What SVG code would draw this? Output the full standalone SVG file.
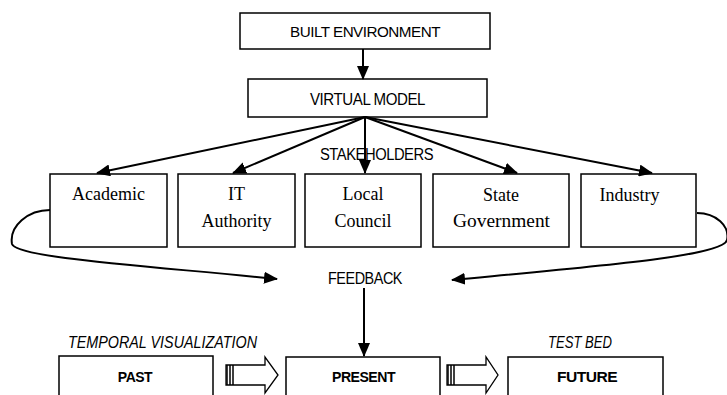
<svg xmlns="http://www.w3.org/2000/svg" width="727" height="395" viewBox="0 0 727 395">
<style>
.box{fill:#fff;stroke:#000;stroke-width:1.5}
.ln{fill:none;stroke:#000;stroke-width:2}
.sans{font-family:"Liberation Sans",Arial,sans-serif;font-size:15px;fill:#000;letter-spacing:-0.5px}
.big{font-size:17px}
.mid{font-size:16px}
.bold{font-size:14px;font-weight:bold;text-anchor:middle}
.ital{font-family:"Liberation Sans",Arial,sans-serif;font-size:16px;font-style:italic;fill:#000}
.serif{font-family:"Liberation Serif","Times New Roman",serif;font-size:18px;fill:#000;text-anchor:middle}
.hol{fill:#fff;stroke:#000;stroke-width:1.3}
</style>
<defs>
<marker id="ah" markerWidth="14" markerHeight="12" refX="13" refY="6" orient="auto" markerUnits="userSpaceOnUse">
<path d="M0,0 L14,6 L0,12 Z" fill="#000"/>
</marker>
</defs>
<g id="built-environment">
<rect class="box" x="240" y="13" width="250" height="36"/>
<text class="sans" x="290" y="37" textLength="150" lengthAdjust="spacingAndGlyphs">BUILT ENVIRONMENT</text>
</g>
<g id="virtual-model">
<rect class="box" x="248" y="79" width="239" height="38"/>
<text class="sans big" x="310" y="105" textLength="115" lengthAdjust="spacingAndGlyphs">VIRTUAL MODEL</text>
</g>
<g id="stakeholders-label">
<text class="sans mid" x="320" y="160" textLength="113" lengthAdjust="spacingAndGlyphs">STAKEHOLDERS</text>
</g>
<g id="academic">
<rect class="box" x="50" y="174" width="117" height="73"/>
<text class="serif" x="108.5" y="200">Academic</text>
</g>
<g id="it-authority">
<rect class="box" x="178" y="174" width="117" height="73"/>
<text class="serif" x="236.5" y="200">IT</text>
<text class="serif" x="236.5" y="227">Authority</text>
</g>
<g id="local-council">
<rect class="box" x="305" y="174" width="116" height="73"/>
<text class="serif" x="363" y="200">Local</text>
<text class="serif" x="363" y="227">Council</text>
</g>
<g id="state-government">
<rect class="box" x="433" y="174" width="136" height="73"/>
<text class="serif" x="501" y="201">State</text>
<text class="serif" x="501.5" y="227" textLength="97" lengthAdjust="spacingAndGlyphs">Government</text>
</g>
<g id="industry">
<rect class="box" x="581" y="174" width="115" height="73"/>
<text class="serif" x="629.5" y="201">Industry</text>
</g>
<g id="feedback-label">
<text class="sans mid" x="328" y="284" textLength="74" lengthAdjust="spacingAndGlyphs">FEEDBACK</text>
</g>
<g id="temporal-label">
<text class="ital" x="68" y="348" textLength="189" lengthAdjust="spacingAndGlyphs">TEMPORAL VISUALIZATION</text>
</g>
<g id="test-bed-label">
<text class="ital" x="548" y="348" textLength="64" lengthAdjust="spacingAndGlyphs">TEST BED</text>
</g>
<g id="past">
<rect class="box" x="59" y="356" width="154" height="50"/>
<text class="sans bold" x="135" y="382">PAST</text>
</g>
<g id="present">
<rect class="box" x="286" y="357" width="154" height="50"/>
<text class="sans bold" x="363.5" y="382" textLength="63" lengthAdjust="spacingAndGlyphs">PRESENT</text>
</g>
<g id="future">
<rect class="box" x="508" y="357" width="155" height="50"/>
<text class="sans bold" x="587" y="382" textLength="60" lengthAdjust="spacingAndGlyphs">FUTURE</text>
</g>
<g id="connectors">
<line class="ln" x1="363" y1="49" x2="363" y2="79" marker-end="url(#ah)"/>
<line class="ln" x1="365" y1="117" x2="97" y2="173" marker-end="url(#ah)"/>
<line class="ln" x1="365" y1="117" x2="233" y2="173" marker-end="url(#ah)"/>
<line class="ln" x1="365" y1="117" x2="365" y2="173" marker-end="url(#ah)"/>
<line class="ln" x1="365" y1="117" x2="517" y2="173" marker-end="url(#ah)"/>
<line class="ln" x1="365" y1="117" x2="652" y2="173" marker-end="url(#ah)"/>
<path class="ln" d="M50,210 C28,210 9,226 12,244 C16,258 150,266 277,279" marker-end="url(#ah)"/>
<path class="ln" d="M697,213 C716,213 730,226 727,240 C724,256 600,266 452,280" marker-end="url(#ah)"/>
<line class="ln" x1="364" y1="288" x2="364" y2="356" stroke-width="1.5" marker-end="url(#ah)"/>
<g id="arrow-past-present">
<path class="hol" d="M226,365 L265,365 L265,357 L278,375 L265,393 L265,385 L226,385 Z"/>
<path d="M227,365 V385 M230,365 V385 M233,365 V385" stroke="#000" stroke-width="1.5"/>
</g>
<g id="arrow-present-future">
<path class="hol" d="M447,365 L486,365 L486,357 L498,375 L486,393 L486,385 L447,385 Z"/>
<path d="M448,365 V385 M451,365 V385 M454,365 V385" stroke="#000" stroke-width="1.5"/>
</g>
</g>
</svg>
